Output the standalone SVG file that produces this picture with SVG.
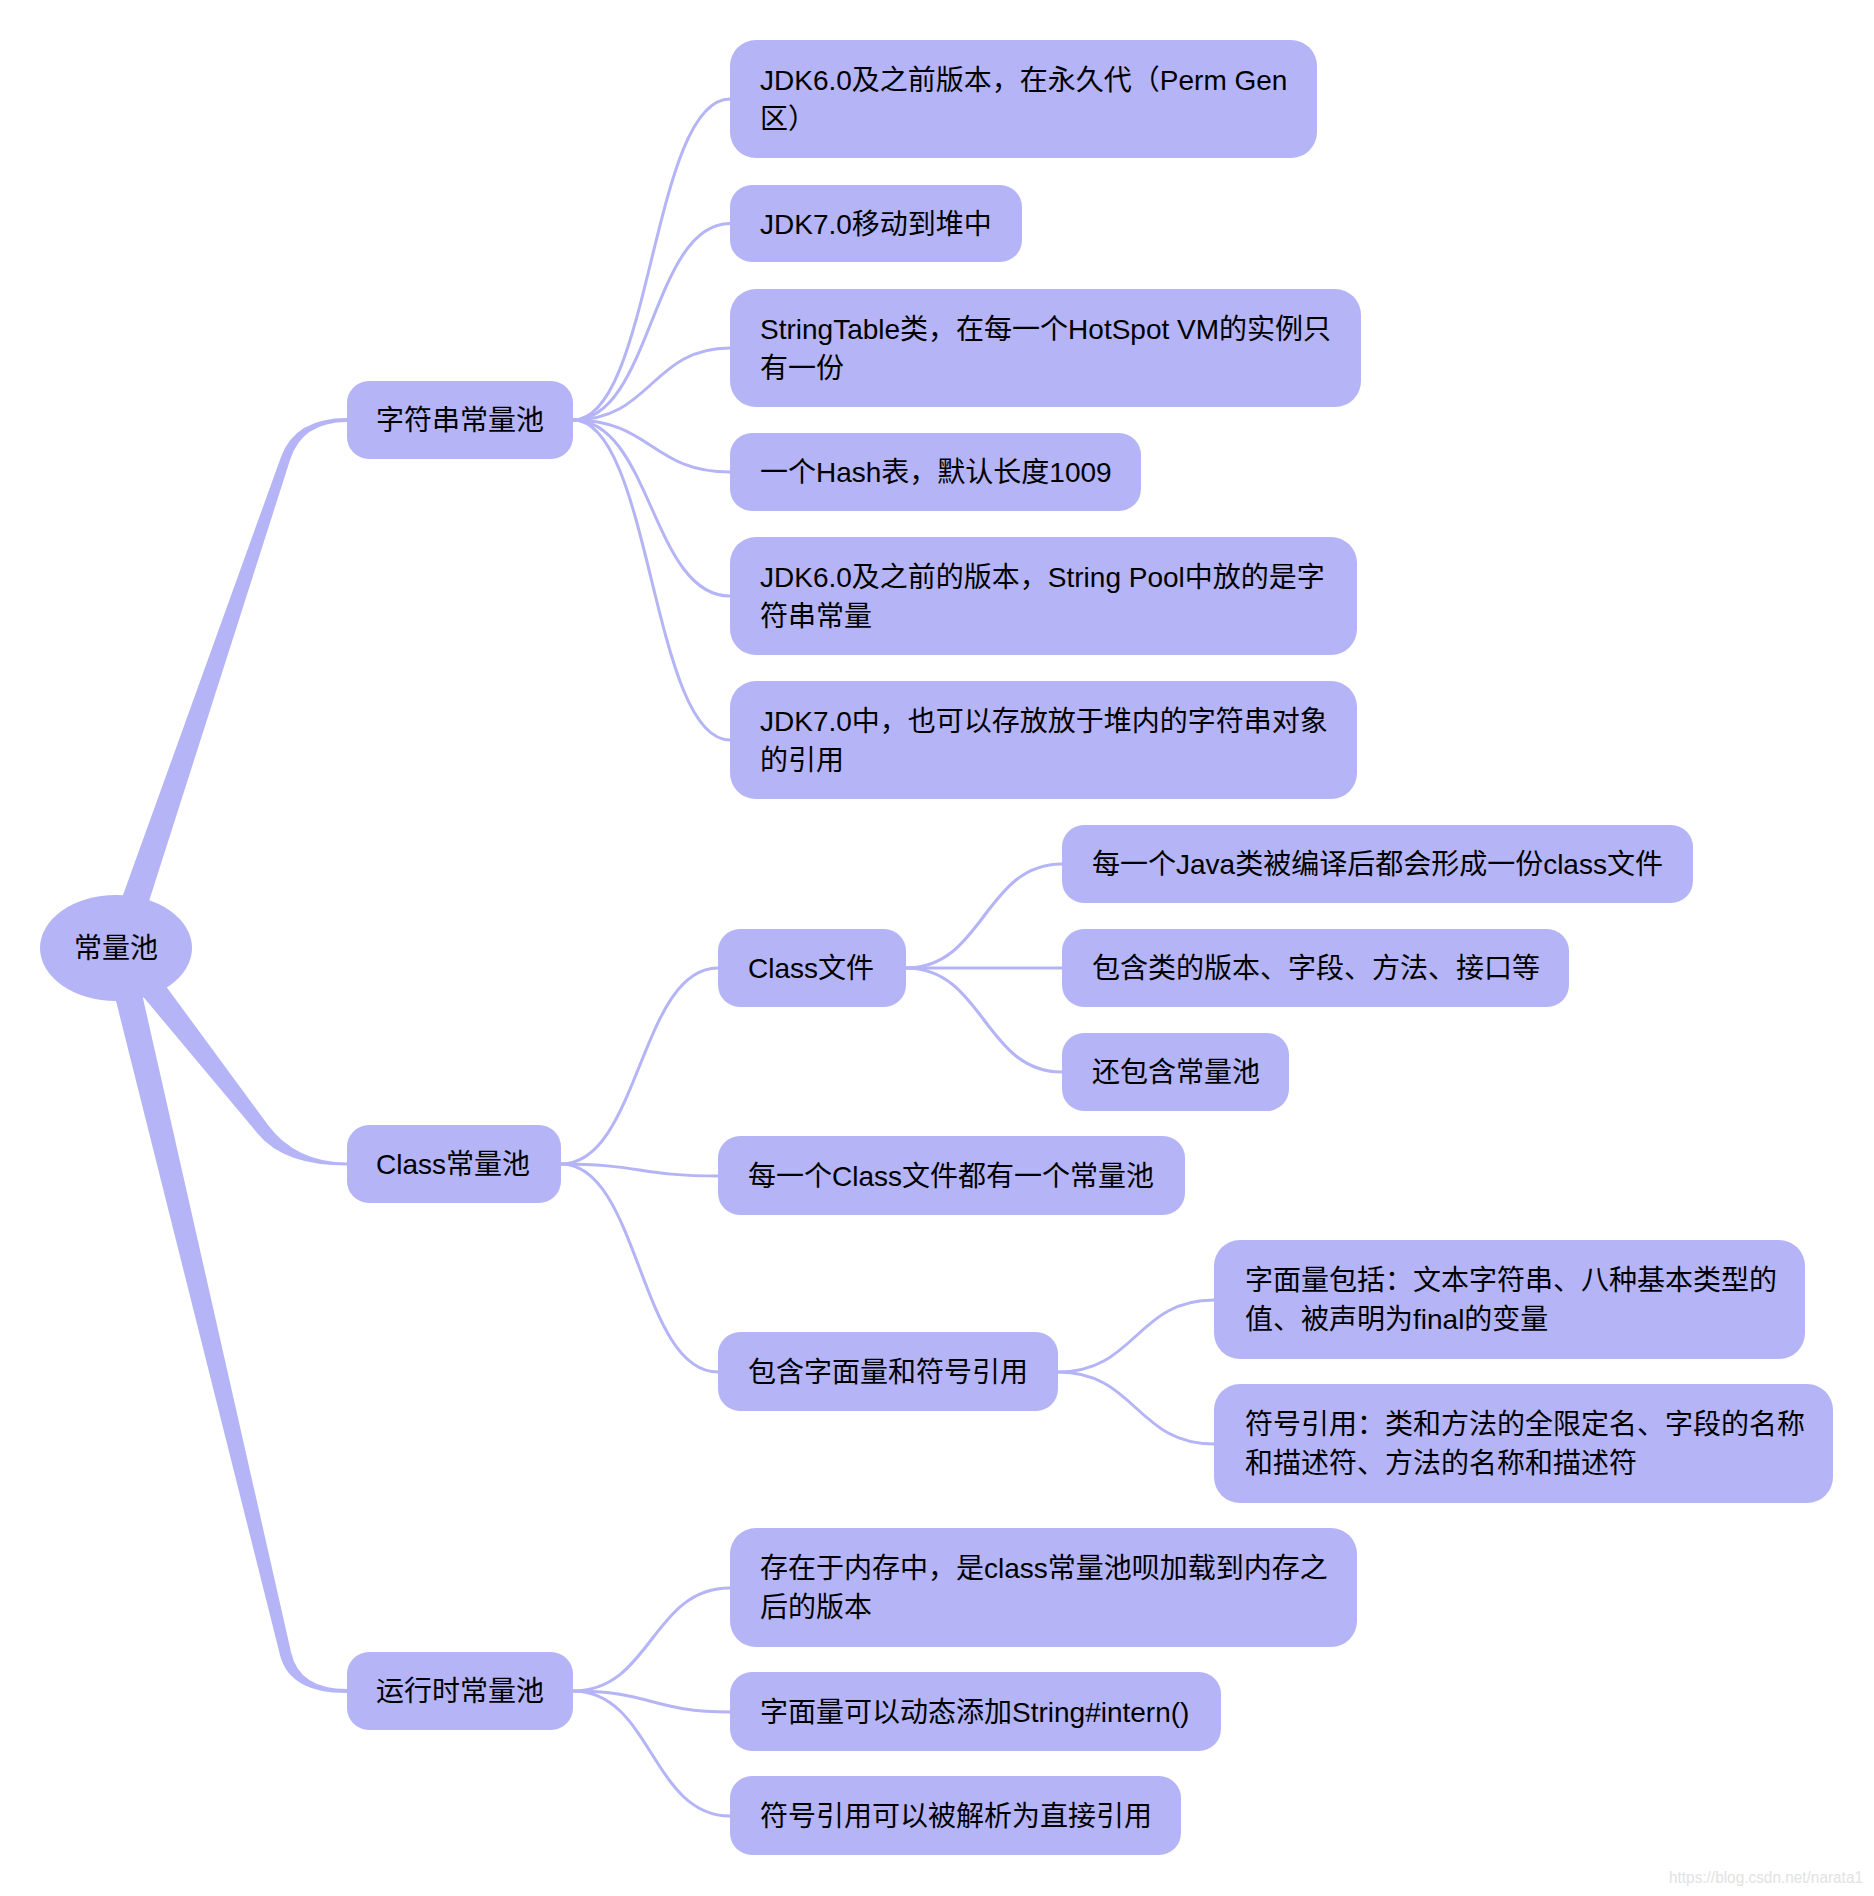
<svg xmlns="http://www.w3.org/2000/svg" width="1874" height="1896" viewBox="0 0 1874 1896">
<style>
.node rect, .node ellipse { fill: #b4b4f7; }
.t { font-family: "Liberation Sans", "Noto Sans CJK SC", sans-serif; font-size: 28px; fill: #000; }
.link { fill: none; stroke: #b4b4f7; stroke-width: 3; }
.branch { fill: #b4b4f7; stroke: none; }
.wm { font-family: "Liberation Sans", sans-serif; font-size: 16px; fill: #e2e2e2; }
</style>
<rect width="1874" height="1896" fill="#ffffff"/>
<g id="connectors">
  <path class="branch" d="M 114 920 L 281 457 Q 295 418 347 418 L 347 422 Q 302 422 290 460 L 143 920 Z"/>
  <path class="branch" d="M 154 970 L 268 1125 Q 296 1162.5 347 1162.5 L 347 1165.5 Q 284 1165.5 258 1134 L 125 975 Z"/>
  <path class="branch" d="M 112 985 L 280 1655 Q 289.5 1693 347 1693 L 347 1689 Q 299 1689 291 1652 L 140 985 Z"/>
  <path class="link" d="M 573 420 C 651.5 420 651.5 99 730 99"/>
  <path class="link" d="M 573 420 C 651.5 420 651.5 223.5 730 223.5"/>
  <path class="link" d="M 573 420 C 651.5 420 651.5 348 730 348"/>
  <path class="link" d="M 573 420 C 651.5 420 651.5 472 730 472"/>
  <path class="link" d="M 573 420 C 651.5 420 651.5 596 730 596"/>
  <path class="link" d="M 573 420 C 651.5 420 651.5 740 730 740"/>
  <path class="link" d="M 561 1164 C 639.5 1164 639.5 968 718 968"/>
  <path class="link" d="M 561 1164 C 639.5 1164 639.5 1176 718 1176"/>
  <path class="link" d="M 561 1164 C 639.5 1164 639.5 1372 718 1372"/>
  <path class="link" d="M 906 968 C 984 968 984 864 1062 864"/>
  <path class="link" d="M 906 968 L 1062 968"/>
  <path class="link" d="M 906 968 C 984 968 984 1072 1062 1072"/>
  <path class="link" d="M 1058 1372 C 1136 1372 1136 1300 1214 1300"/>
  <path class="link" d="M 1058 1372 C 1136 1372 1136 1444 1214 1444"/>
  <path class="link" d="M 573 1691 C 651.5 1691 651.5 1588 730 1588"/>
  <path class="link" d="M 573 1691 C 651.5 1691 651.5 1712 730 1712"/>
  <path class="link" d="M 573 1691 C 651.5 1691 651.5 1816 730 1816"/>
</g>
<g id="root" class="node">
  <ellipse cx="116" cy="948" rx="76" ry="53"/>
  <text class="t" x="116" y="958" text-anchor="middle">常量池</text>
</g>
<g id="n-string" class="node">
  <rect x="347" y="381" width="226" height="78" rx="22"/>
  <text class="t" x="376" y="430">字符串常量池</text>
</g>
<g id="n-class" class="node">
  <rect x="347" y="1125" width="214" height="78" rx="22"/>
  <text class="t" x="376" y="1174">Class常量池</text>
</g>
<g id="n-runtime" class="node">
  <rect x="347" y="1652" width="226" height="78" rx="22"/>
  <text class="t" x="376" y="1701">运行时常量池</text>
</g>
<g id="s1" class="node">
  <rect x="730" y="40" width="587" height="118" rx="26"/>
  <text class="t" x="760" y="90">JDK6.0及之前版本，在永久代（Perm Gen</text>
  <text class="t" x="760" y="129">区）</text>
</g>
<g id="s2" class="node">
  <rect x="730" y="185" width="292" height="77" rx="22"/>
  <text class="t" x="760" y="233.5">JDK7.0移动到堆中</text>
</g>
<g id="s3" class="node">
  <rect x="730" y="289" width="631" height="118" rx="26"/>
  <text class="t" x="760" y="339">StringTable类，在每一个HotSpot VM的实例只</text>
  <text class="t" x="760" y="378">有一份</text>
</g>
<g id="s4" class="node">
  <rect x="730" y="433" width="411" height="78" rx="22"/>
  <text class="t" x="760" y="482">一个Hash表，默认长度1009</text>
</g>
<g id="s5" class="node">
  <rect x="730" y="537" width="627" height="118" rx="26"/>
  <text class="t" x="760" y="587">JDK6.0及之前的版本，String Pool中放的是字</text>
  <text class="t" x="760" y="626">符串常量</text>
</g>
<g id="s6" class="node">
  <rect x="730" y="681" width="627" height="118" rx="26"/>
  <text class="t" x="760" y="731">JDK7.0中，也可以存放放于堆内的字符串对象</text>
  <text class="t" x="760" y="770">的引用</text>
</g>
<g id="k1" class="node">
  <rect x="718" y="929" width="188" height="78" rx="22"/>
  <text class="t" x="748" y="978">Class文件</text>
</g>
<g id="k2" class="node">
  <rect x="718" y="1136" width="467" height="79" rx="22"/>
  <text class="t" x="748" y="1186">每一个Class文件都有一个常量池</text>
</g>
<g id="k3" class="node">
  <rect x="718" y="1332" width="340" height="79" rx="22"/>
  <text class="t" x="748" y="1382">包含字面量和符号引用</text>
</g>
<g id="j1" class="node">
  <rect x="1062" y="825" width="631" height="78" rx="22"/>
  <text class="t" x="1092" y="874">每一个Java类被编译后都会形成一份class文件</text>
</g>
<g id="j2" class="node">
  <rect x="1062" y="929" width="507" height="78" rx="22"/>
  <text class="t" x="1092" y="978">包含类的版本、字段、方法、接口等</text>
</g>
<g id="j3" class="node">
  <rect x="1062" y="1033" width="227" height="78" rx="22"/>
  <text class="t" x="1092" y="1082">还包含常量池</text>
</g>
<g id="f1" class="node">
  <rect x="1214" y="1240" width="591" height="119" rx="26"/>
  <text class="t" x="1245" y="1290">字面量包括：文本字符串、八种基本类型的</text>
  <text class="t" x="1245" y="1329">值、被声明为final的变量</text>
</g>
<g id="f2" class="node">
  <rect x="1214" y="1384" width="619" height="119" rx="26"/>
  <text class="t" x="1245" y="1434">符号引用：类和方法的全限定名、字段的名称</text>
  <text class="t" x="1245" y="1473">和描述符、方法的名称和描述符</text>
</g>
<g id="r1" class="node">
  <rect x="730" y="1528" width="627" height="119" rx="26"/>
  <text class="t" x="760" y="1578">存在于内存中，是class常量池呗加载到内存之</text>
  <text class="t" x="760" y="1617">后的版本</text>
</g>
<g id="r2" class="node">
  <rect x="730" y="1672" width="491" height="79" rx="22"/>
  <text class="t" x="760" y="1722">字面量可以动态添加String#intern()</text>
</g>
<g id="r3" class="node">
  <rect x="730" y="1776" width="451" height="79" rx="22"/>
  <text class="t" x="760" y="1826">符号引用可以被解析为直接引用</text>
</g>
<text class="wm" x="1669" y="1883" textLength="194" lengthAdjust="spacingAndGlyphs">https://blog.csdn.net/narata1</text>
</svg>
